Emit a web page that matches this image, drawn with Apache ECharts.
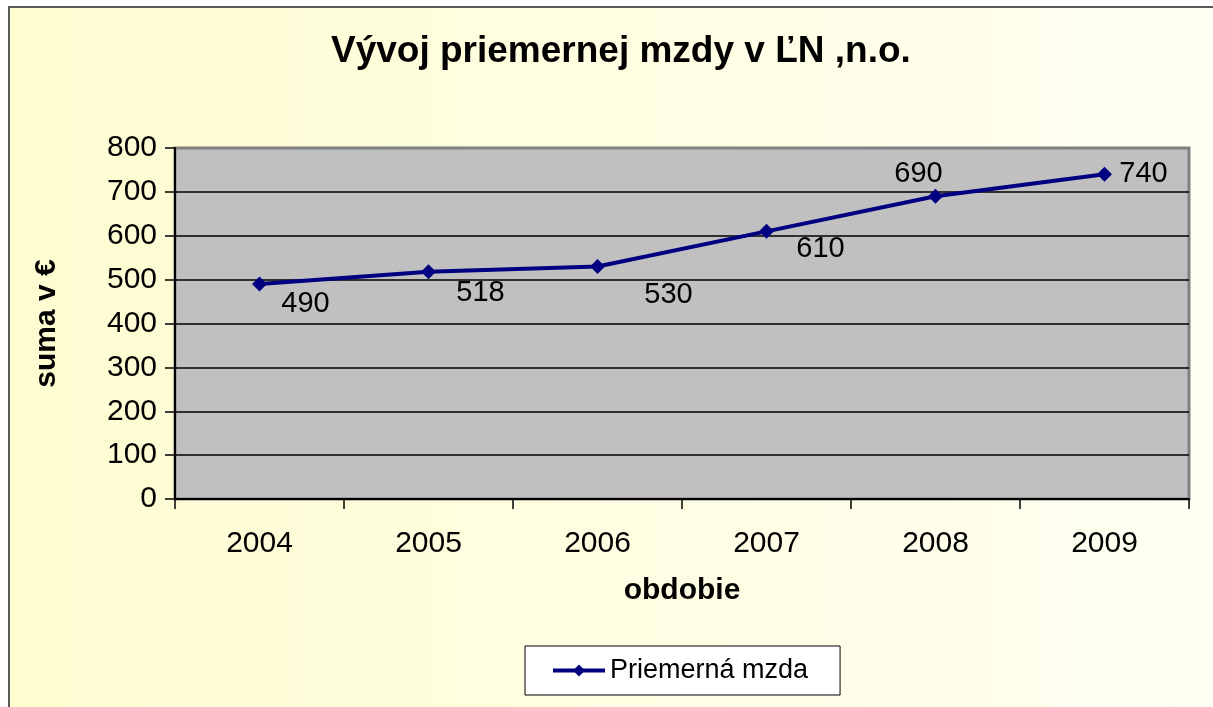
<!DOCTYPE html>
<html>
<head>
<meta charset="utf-8">
<title>Vývoj priemernej mzdy</title>
<script src="https://cdn.jsdelivr.net/npm/echarts@6/dist/echarts.min.js"></script>
<style>
  html, body { margin: 0; padding: 0; background: #ffffff; }
  #chart {
    position: absolute;
    left: 8px;
    top: 6px;
    width: 1203px;
    height: 699px;
    border-left: 2px solid #5a5a5a;
    border-top: 2px solid #5a5a5a;
  }
</style>
</head>
<body>
<div id="chart"></div>
<script>
const years = ['2004', '2005', '2006', '2007', '2008', '2009']
const avgWage = [490, 518, 530, 610, 690, 740]
const yTicks = [0, 100, 200, 300, 400, 500, 600, 700, 800]

// where each value label sits relative to its point
const labelOffsets = [[46, 20], [52, 21], [71, 29], [54, 18], [-17, -22], [39, 0]]

const font = '"Liberation Sans", Arial, sans-serif'
const chart = echarts.init(document.getElementById('chart'))

const option = {
  backgroundColor: new echarts.graphic.LinearGradient(0, 0, 1, 0, [
    { offset: 0, color: '#fefcd0' },
    { offset: 1, color: '#fffff3' }
  ]),
  textStyle: { fontFamily: font },
  title: {
    text: 'Vývoj priemernej mzdy v ĽN ,n.o.',
    left: 321,
    top: 25,
    padding: 0,
    textStyle: { fontSize: 37, fontWeight: 'bold', color: '#000', fontFamily: font }
  },
  legend: {
    data: ['Priemerná mzda'],
    left: 515,
    top: 638,
    padding: [11, 32, 11, 26],
    backgroundColor: '#ffffff',
    borderColor: '#000000',
    borderWidth: 1,
    borderRadius: 0,
    itemWidth: 52,
    itemHeight: 15,
    itemGap: 4,
    lineStyle: { width: 4 },
    textStyle: { fontSize: 27, color: '#000', fontFamily: font }
  },
  grid: {
    left: 165,
    top: 140,
    right: 24,
    bottom: 208,
    show: true,
    backgroundColor: '#c0c0c0',
    borderColor: '#808080',
    borderWidth: 3
  },
  xAxis: {
    type: 'category',
    data: years,
    boundaryGap: true,
    name: 'obdobie',
    nameLocation: 'middle',
    nameGap: 77,
    nameTextStyle: { fontSize: 30, fontWeight: 'bold', color: '#000', fontFamily: font },
    axisLine: { lineStyle: { color: '#000', width: 2 } },
    axisTick: { show: true, length: 10, lineStyle: { color: '#000', width: 1.5 } },
    axisLabel: { fontSize: 30, color: '#000', margin: 30 },
    splitLine: { show: false }
  },
  yAxis: {
    type: 'value',
    min: yTicks[0],
    max: yTicks[yTicks.length - 1],
    interval: 100,
    name: 'suma v €',
    nameLocation: 'middle',
    nameGap: 113,
    nameTextStyle: { fontSize: 30, fontWeight: 'bold', color: '#000', fontFamily: font },
    axisLine: { show: true, lineStyle: { color: '#000', width: 2 } },
    axisTick: { show: true, length: 10, lineStyle: { color: '#000', width: 1.5 } },
    axisLabel: { fontSize: 30, color: '#000', margin: 18 },
    splitLine: {
      show: true,
      lineStyle: {
        color: ['#000', '#000', '#000', '#000', '#000', '#000', '#000', '#000', '#808080'],
        width: 1.5
      }
    }
  },
  series: [
    {
      name: 'Priemerná mzda',
      type: 'line',
      data: avgWage.map((v, i) => ({
        value: v,
        label: { offset: labelOffsets[i] }
      })),
      symbol: 'diamond',
      symbolSize: 15,
      lineStyle: { color: '#000080', width: 4 },
      itemStyle: { color: '#000080' },
      label: {
        show: true,
        position: 'inside',
        fontSize: 29,
        color: '#000',
        fontFamily: font
      },
      z: 5
    }
  ]
}

chart.setOption(option)
</script>
</body>
</html>
